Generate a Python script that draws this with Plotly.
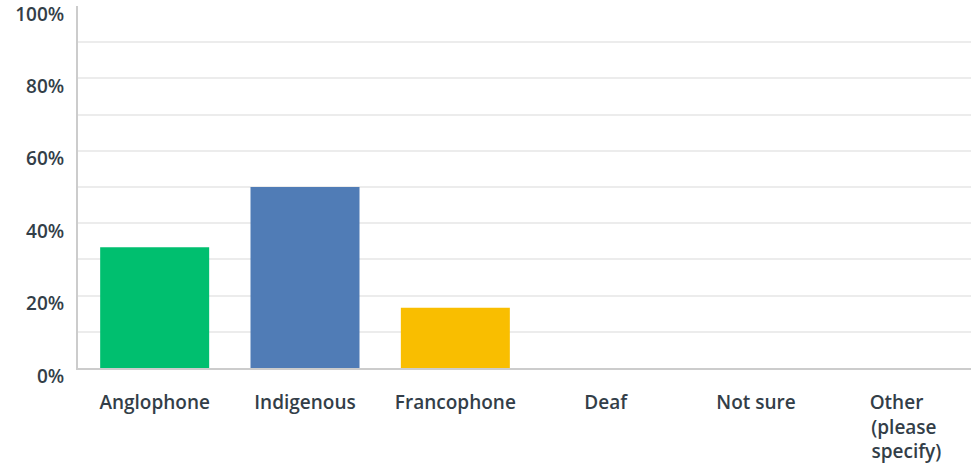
import plotly.graph_objects as go

categories = ["Anglophone", "Indigenous", "Francophone", "Deaf", "Not sure", "Other (please specify)"]
tick_labels = ["Anglophone", "Indigenous", "Francophone", "Deaf", "Not sure",
               "Other\u00a0\u00a0\u00a0\u00a0<br>(please\u00a0<br>specify)"]
values = [33.33, 50.0, 16.67, 0, 0, 0]
colors = ["#00bf6f", "#507cb6", "#f9be00", "#6bc8cd", "#ff8b4f", "#7d5bab"]
y_ticks = [0, 20, 40, 60, 80, 100]
y_tick_labels = ["0%", "20%", "40%", "60%", "80%", "100%"]

font_family = "'Open Sans', sans-serif"
text_color = "#333e48"

fig = go.Figure(go.Bar(
    x=list(range(len(categories))),
    y=values,
    marker=dict(color=colors, line=dict(width=0)),
    hovertext=categories,
))

fig.update_layout(
    width=971, height=464,
    margin=dict(l=78, r=0, t=6, b=96),
    paper_bgcolor="white", plot_bgcolor="white",
    bargap=0.275,
    showlegend=False,
    font=dict(family=font_family, color=text_color, size=19),
)
fig.update_xaxes(
    range=[-0.51, 5.43], automargin=False,
    tickmode="array", tickvals=list(range(len(categories))), ticktext=tick_labels,
    showgrid=False, zeroline=False,
    showline=True, linecolor="#cccccc", linewidth=2,
    ticks="outside", ticklen=16, tickcolor="rgba(0,0,0,0)",
    tickfont=dict(family=font_family, size=19, color=text_color, weight=600),
)
fig.update_yaxes(
    range=[0, 100], automargin=False,
    tickmode="array", tickvals=y_ticks, ticktext=y_tick_labels,
    showgrid=True, gridcolor="#ececec", gridwidth=2,
    minor=dict(dtick=10, showgrid=True, gridcolor="#ececec", gridwidth=2),
    zeroline=False,
    showline=True, linecolor="#cccccc", linewidth=2,
    ticks="outside", ticklen=8, tickcolor="rgba(0,0,0,0)",
    ticklabelshift=8,
    tickfont=dict(family=font_family, size=19, color=text_color, weight=600),
)

fig.write_html("out.html", config={"displayModeBar": False},
               post_script="document.body.style.margin='0';")
